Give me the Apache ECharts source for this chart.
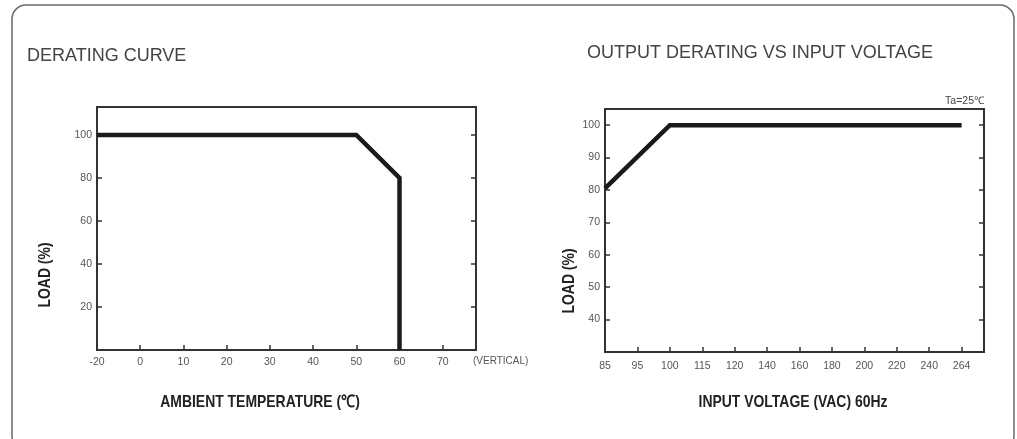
<!DOCTYPE html>
<html>
<head>
<meta charset="utf-8">
<title>Derating curves</title>
<script src="https://cdn.jsdelivr.net/npm/echarts@6/dist/echarts.min.js"></script>
<style>
	html, body { margin: 0; padding: 0; background: #fff; }
	#Main { width: 1017px; height: 439px; }
</style>
</head>
<body>
<div id="Main"></div>
<script>
// 温度降额曲线
var tempLabels = ['-20', '0', '10', '20', '30', '40', '50', '60', '70'];
var tempValues = [-20, 50, 60, 60];
var tempLoad = [100, 100, 80, 0];
// 输入电压降额曲线
var voltLabels = ['85', '95', '100', '115', '120', '140', '160', '180', '200', '220', '240', '264'];
var voltValues = [85, 100, 264];
var voltLoad = [80.5, 100, 100];

var labelFont = 'Liberation Sans, Arial, sans-serif';

// 把数值换成刻度位置(刻度不是等距的)
function toPos(v, labels) {
	for (var i = 0; i < labels.length - 1; i++) {
		var a = +labels[i], b = +labels[i + 1];
		if (v >= a && v <= b) {
			return i + (v - a) / (b - a);
		}
	}
	return labels.length - 1;
}

function buildData(xs, ys, labels) {
	var out = [];
	for (var i = 0; i < xs.length; i++) {
		out.push([toPos(xs[i], labels), ys[i]]);
	}
	return out;
}

function xAxisCfg(idx, labels, max, margin) {
	return {
		type: 'value',
		gridIndex: idx,
		min: 0,
		max: max,
		interval: 1,
		splitLine: { show: false },
		axisLine: { show: false },
		axisTick: { show: true, inside: true, length: 5, lineStyle: { color: '#333', width: 1.5 } },
		axisLabel: {
			showMaxLabel: false,
			margin: margin,
			color: '#555',
			fontSize: 10.5,
			fontFamily: labelFont,
			formatter: function(v) {
				return labels[v] === undefined ? '' : labels[v];
			}
		}
	};
}

function yAxisCfg(idx, min, max, interval, pos, showLabel) {
	return {
		type: 'value',
		gridIndex: idx,
		position: pos,
		min: min,
		max: max,
		interval: interval,
		splitLine: { show: false },
		axisLine: { show: false },
		axisTick: { show: true, inside: true, length: 5, lineStyle: { color: '#333', width: 1.5 } },
		axisLabel: {
			show: showLabel,
			showMinLabel: false,
			showMaxLabel: false,
			margin: 5,
			color: '#555',
			fontSize: 10.5,
			fontFamily: labelFont
		}
	};
}

function txt(x, y, text, size, opt) {
	opt = opt || {};
	return {
		type: 'text',
		x: x,
		y: y,
		rotation: opt.rotation || 0,
		scaleX: opt.scaleX || 1,
		style: {
			text: text,
			fill: opt.color || '#333',
			font: (opt.bold ? 'bold ' : '') + size + 'px ' + labelFont,
			textAlign: opt.align || 'left',
			textVerticalAlign: 'middle'
		}
	};
}

var myChart = echarts.init(document.getElementById('Main'));
myChart.setOption({
	animation: false,
	grid: [
		{ left: 97, top: 107, width: 379, height: 243, show: true, borderColor: '#333', borderWidth: 2 },
		{ left: 605, top: 109, width: 379, height: 243, show: true, borderColor: '#333', borderWidth: 2 }
	],
	xAxis: [
		xAxisCfg(0, tempLabels, 8.77, 7),
		xAxisCfg(1, voltLabels, 11.69, 9)
	],
	yAxis: [
		yAxisCfg(0, 0, 113, 20, 'left', true),
		yAxisCfg(0, 0, 113, 20, 'right', false),
		yAxisCfg(1, 30, 105, 10, 'left', true),
		yAxisCfg(1, 30, 105, 10, 'right', false)
	],
	series: [{
		name: 'temp',
		type: 'line',
		xAxisIndex: 0,
		yAxisIndex: 0,
		showSymbol: false,
		lineStyle: { color: '#1a1a1a', width: 4.5, join: 'miter' },
		data: buildData(tempValues, tempLoad, tempLabels)
	}, {
		name: 'volt',
		type: 'line',
		xAxisIndex: 1,
		yAxisIndex: 2,
		showSymbol: false,
		lineStyle: { color: '#1a1a1a', width: 4.5, join: 'miter' },
		data: buildData(voltValues, voltLoad, voltLabels)
	}],
	graphic: [
		// 外框
		{
			type: 'rect',
			shape: { x: 12, y: 5, width: 1002, height: 445, r: 14 },
			style: { fill: 'none', stroke: '#6a6a6a', lineWidth: 1.5 }
		},
		txt(27, 56, 'DERATING CURVE', 18, { color: '#444' }),
		txt(587, 53, 'OUTPUT DERATING VS INPUT VOLTAGE', 18, { color: '#444' }),
		txt(260, 402, 'AMBIENT TEMPERATURE (\u2103)', 17, { bold: true, scaleX: 0.82, align: 'center', color: '#222' }),
		txt(793, 402, 'INPUT VOLTAGE (VAC) 60Hz', 17, { bold: true, scaleX: 0.82, align: 'center', color: '#222' }),
		txt(45, 275, 'LOAD (%)', 17, { bold: true, scaleX: 0.82, align: 'center', color: '#222', rotation: Math.PI / 2 }),
		txt(569, 281, 'LOAD (%)', 17, { bold: true, scaleX: 0.82, align: 'center', color: '#222', rotation: Math.PI / 2 }),
		txt(473, 361, '(VERTICAL)', 10, { color: '#555' }),
		txt(984, 101, 'Ta=25\u2103', 10.5, { color: '#444', align: 'right' })
	]
});
</script>
</body>
</html>
